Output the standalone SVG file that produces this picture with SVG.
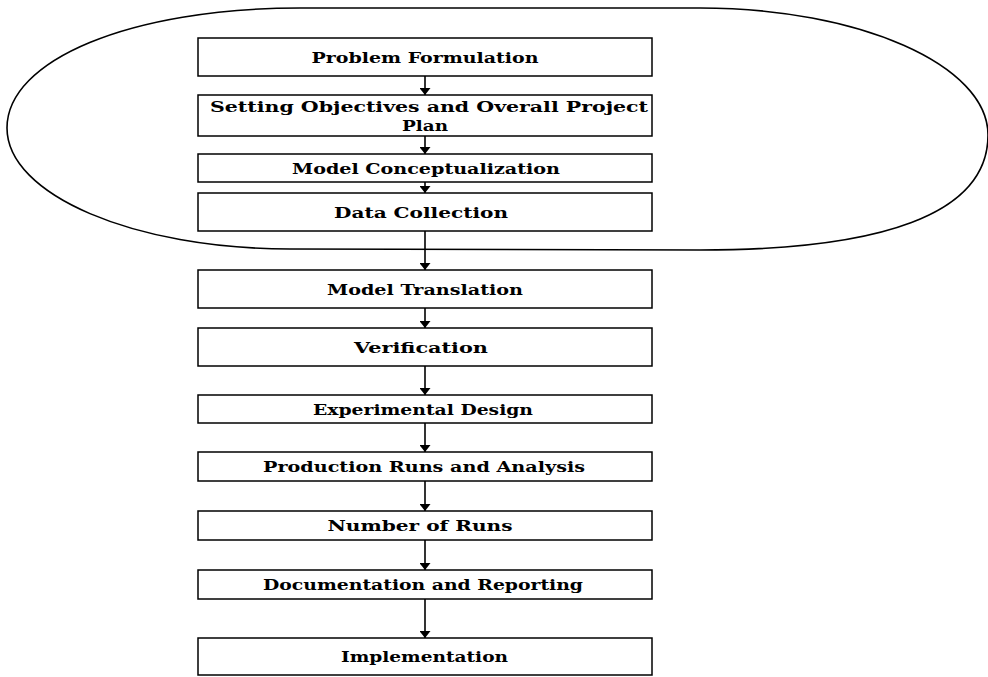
<svg xmlns="http://www.w3.org/2000/svg" width="988" height="677" viewBox="0 0 988 677">
  <style>
    .box { fill: #ffffff; stroke: #000000; stroke-width: 1.5; }
    .lbl { font-family: "DejaVu Serif", "Liberation Serif", serif; font-weight: bold; font-size: 15.5px; fill: #000000; text-anchor: middle; }
    .edge { fill: none; stroke: #000000; stroke-width: 1.6; marker-end: url(#arrow); }
    .phase { fill: none; stroke: #000000; stroke-width: 1.6; }
  </style>
  <defs>
    <marker id="arrow" markerUnits="userSpaceOnUse" markerWidth="7" markerHeight="11" refX="7" refY="5.5" orient="auto" viewBox="0 0 7 11">
      <path d="M0,0 L7,5.5 L0,11 Z" fill="#000000"/>
    </marker>
  </defs>
  <rect width="988" height="677" fill="#ffffff"/>

  <!-- enclosing outline around the first four stages -->
  <path class="phase" d="M 7 128 C 7 60, 130 8, 300 8 L 700 8 C 859 8, 988 65, 988 135 C 988 215, 880 250, 700 250 L 290 249 C 134 249, 7 195, 7 128 Z"/>

  <g id="connectors">
    <line class="edge" x1="425" y1="76" x2="425" y2="95"/>
    <line class="edge" x1="425" y1="136" x2="425" y2="154"/>
    <line class="edge" x1="425" y1="182" x2="425" y2="193"/>
    <line class="edge" x1="425" y1="231" x2="425" y2="270"/>
    <line class="edge" x1="425" y1="308" x2="425" y2="328"/>
    <line class="edge" x1="425" y1="366" x2="425" y2="395"/>
    <line class="edge" x1="425" y1="423" x2="425" y2="452"/>
    <line class="edge" x1="425" y1="481" x2="425" y2="511"/>
    <line class="edge" x1="425" y1="540" x2="425" y2="570"/>
    <line class="edge" x1="425" y1="599" x2="425" y2="638"/>
  </g>

  <g id="problem-formulation">
    <rect class="box" x="198" y="38" width="454" height="38"/>
    <text class="lbl" x="425" y="63" textLength="227" lengthAdjust="spacingAndGlyphs">Problem Formulation</text>
  </g>
  <g id="setting-objectives">
    <rect class="box" x="198" y="95" width="454" height="41"/>
    <text class="lbl" x="429" y="112" textLength="438" lengthAdjust="spacingAndGlyphs">Setting Objectives and Overall Project</text>
    <text class="lbl" x="425" y="130.5" textLength="46" lengthAdjust="spacingAndGlyphs">Plan</text>
  </g>
  <g id="model-conceptualization">
    <rect class="box" x="198" y="154" width="454" height="28"/>
    <text class="lbl" x="426" y="173.5" textLength="268" lengthAdjust="spacingAndGlyphs">Model Conceptualization</text>
  </g>
  <g id="data-collection">
    <rect class="box" x="198" y="193" width="454" height="38"/>
    <text class="lbl" x="421" y="217.5" textLength="174" lengthAdjust="spacingAndGlyphs">Data Collection</text>
  </g>
  <g id="model-translation">
    <rect class="box" x="198" y="270" width="454" height="38"/>
    <text class="lbl" x="425" y="295" textLength="196" lengthAdjust="spacingAndGlyphs">Model Translation</text>
  </g>
  <g id="verification">
    <rect class="box" x="198" y="328" width="454" height="38"/>
    <text class="lbl" x="421" y="353" textLength="134" lengthAdjust="spacingAndGlyphs">Verification</text>
  </g>
  <g id="experimental-design">
    <rect class="box" x="198" y="395" width="454" height="28"/>
    <text class="lbl" x="423" y="414.5" textLength="220" lengthAdjust="spacingAndGlyphs">Experimental Design</text>
  </g>
  <g id="production-runs">
    <rect class="box" x="198" y="452" width="454" height="29"/>
    <text class="lbl" x="424" y="472" textLength="322" lengthAdjust="spacingAndGlyphs">Production Runs and Analysis</text>
  </g>
  <g id="number-of-runs">
    <rect class="box" x="198" y="511" width="454" height="29"/>
    <text class="lbl" x="420" y="531" textLength="185" lengthAdjust="spacingAndGlyphs">Number of Runs</text>
  </g>
  <g id="documentation">
    <rect class="box" x="198" y="570" width="454" height="29"/>
    <text class="lbl" x="423" y="590" textLength="320" lengthAdjust="spacingAndGlyphs">Documentation and Reporting</text>
  </g>
  <g id="implementation">
    <rect class="box" x="198" y="638" width="454" height="37"/>
    <text class="lbl" x="424.5" y="662" textLength="167" lengthAdjust="spacingAndGlyphs">Implementation</text>
  </g>
</svg>
